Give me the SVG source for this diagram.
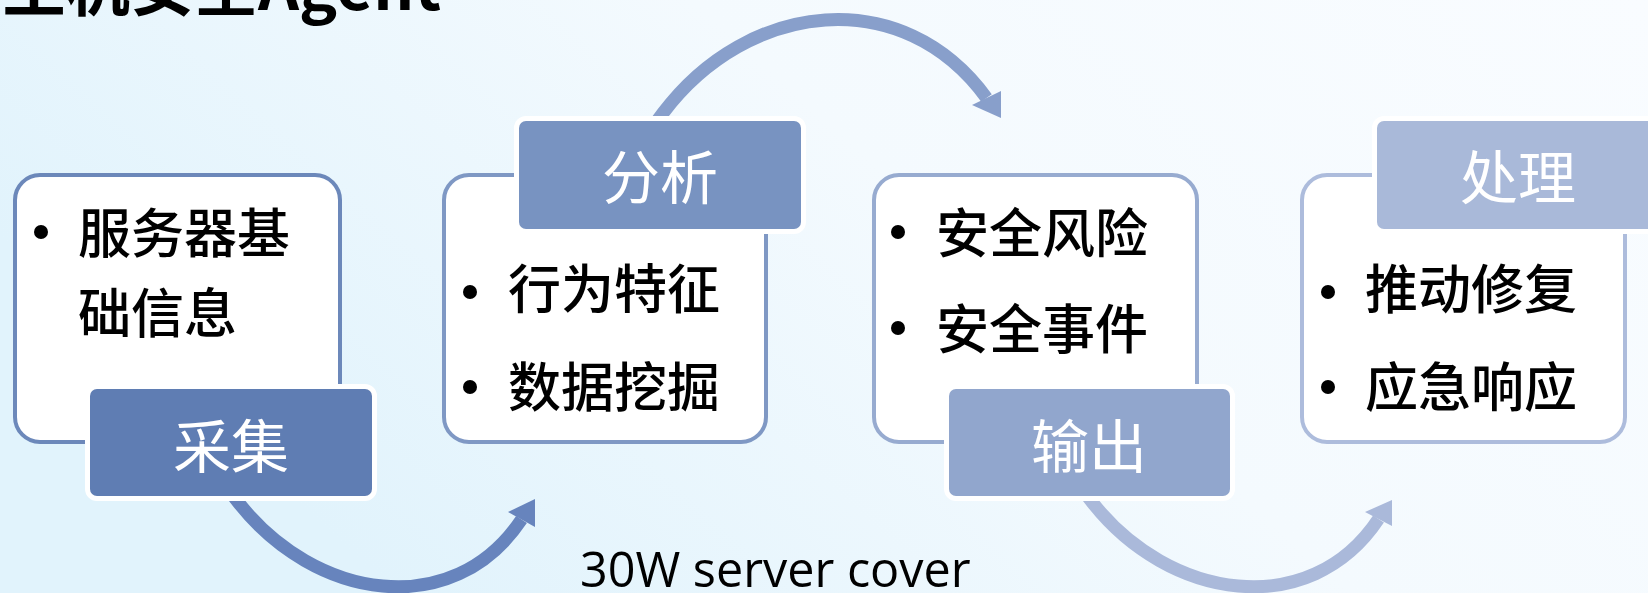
<svg xmlns="http://www.w3.org/2000/svg" width="1648" height="593" viewBox="0 0 1648 593">
<style>
.cjk{font-family:"Noto Sans CJK SC","Noto Sans",sans-serif;}
.item{font-size:53px;fill:#000;font-weight:500;}
.lbl{font-size:58px;fill:#fff;text-anchor:middle;}
.box{fill:#fff;stroke-width:4;}
.tag{stroke:#fff;stroke-width:10;paint-order:stroke;}
.arc{fill:none;stroke-width:13;stroke-linecap:butt;}
.dot{fill:#000;}
</style>
<defs>
<linearGradient id="bg" x1="0" y1="0.4" x2="1" y2="0">
<stop offset="0" stop-color="#e1f3fc"/>
<stop offset="0.5" stop-color="#f4fafe"/>
<stop offset="1" stop-color="#f9fcff"/>
</linearGradient>
</defs>
<rect x="0" y="0" width="1648" height="593" fill="url(#bg)"/>
<text class="cjk" x="2" y="10" font-size="64" font-weight="bold" fill="#000">主机安全Agent</text>

<g id="connectors">
<path class="arc" stroke="#6784bd" d="M228.8,490 L238,502 C314.6,600 452.6,622.3 521.5,519.5"/>
<polygon fill="#6784bd" points="535,499 508,512 535,527"/>
<path class="arc" stroke="#889fcb" d="M655.8,122.6 L663,113 C748,0 903,-17 986.5,98"/>
<polygon fill="#889fcb" points="1001,118 972,105 1001,91"/>
<path class="arc" stroke="#aab9da" d="M1082.8,490 L1092,502 C1168.6,600 1309.6,622.3 1378.5,519"/>
<polygon fill="#aab9da" points="1392,500 1365,512 1392,526"/>
</g>

<g id="node-collect">
<rect class="box" x="15" y="175" width="325" height="267" rx="25" stroke="#6c88ba"/>
<circle class="dot" cx="41" cy="232" r="7"/>
<text class="cjk item" x="78" y="253">服务器基</text>
<text class="cjk item" x="78" y="333">础信息</text>
<rect class="tag" x="90" y="389" width="282" height="107" rx="7" fill="#5f7db3"/>
<text class="cjk lbl" x="231" y="468">采集</text>
</g>

<g id="node-analyze">
<rect class="box" x="444" y="175" width="322" height="267" rx="25" stroke="#7f98c4"/>
<circle class="dot" cx="470" cy="292" r="7"/>
<text class="cjk item" x="508" y="309">行为特征</text>
<circle class="dot" cx="470" cy="387" r="7"/>
<text class="cjk item" x="508" y="407">数据挖掘</text>
<rect class="tag" x="519" y="121" width="282" height="108" rx="7" fill="#7893c1"/>
<text class="cjk lbl" x="660" y="199">分析</text>
</g>

<g id="node-output">
<rect class="box" x="874" y="175" width="323" height="267" rx="25" stroke="#97abd0"/>
<circle class="dot" cx="898" cy="232" r="7"/>
<text class="cjk item" x="936" y="253">安全风险</text>
<circle class="dot" cx="898" cy="328" r="7"/>
<text class="cjk item" x="936" y="349">安全事件</text>
<rect class="tag" x="949" y="389" width="281" height="107" rx="7" fill="#91a6cd"/>
<text class="cjk lbl" x="1089" y="468">输出</text>
</g>

<g id="node-handle">
<rect class="box" x="1302" y="175" width="323" height="267" rx="25" stroke="#adbcdc"/>
<circle class="dot" cx="1328" cy="292" r="7"/>
<text class="cjk item" x="1365" y="309">推动修复</text>
<circle class="dot" cx="1328" cy="387" r="7"/>
<text class="cjk item" x="1365" y="407">应急响应</text>
<rect class="tag" x="1377" y="121" width="282" height="108" rx="7" fill="#a9b9d9"/>
<text class="cjk lbl" x="1518" y="199">处理</text>
</g>

<text x="580" y="587" font-family="'Open Sans','Noto Sans',sans-serif" font-size="48.5" fill="#000">30W server cover</text>
</svg>
